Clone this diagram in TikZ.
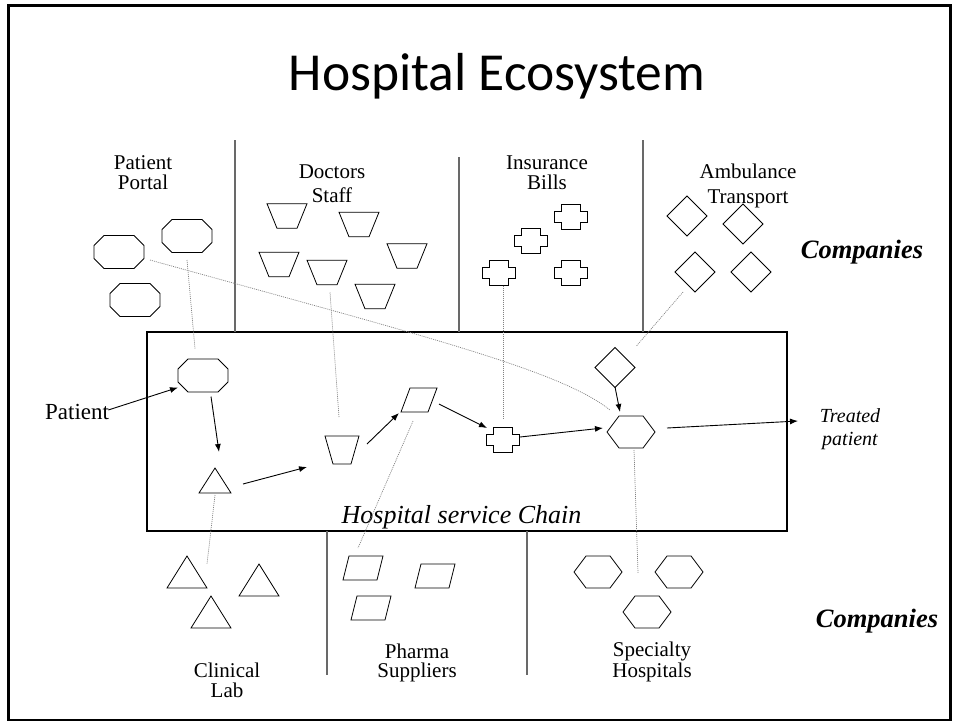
\documentclass[tikz,border=0pt]{standalone}
\usepackage{fontspec}
\setmainfont{Liberation Serif}
\newfontfamily\titlefont{Carlito}
\usetikzlibrary{arrows.meta,calc}
\definecolor{divgray}{RGB}{105,105,105}
\definecolor{dotgray}{RGB}{130,130,130}
% shape macros: name, x, y (+ sizes)
\newcommand\mkoct[3]{\node[hold] (#1) at (#2,#3) {};
  \draw[shp,shift={(#1.center)}] (-15,-16.5) -- (15,-16.5) -- (25,-6.5) -- (25,6.5) -- (15,16.5) -- (-15,16.5) -- (-25,6.5) -- (-25,-6.5) -- cycle;}
\newcommand\mktrap[6]{\node[hold] (#1) at (#2,#3) {};
  \draw[shp,shift={(#1.center)}] (-#4,-#6) -- (#4,-#6) -- (#5,#6) -- (-#5,#6) -- cycle;}
\newcommand\mkplus[3]{\node[hold] (#1) at (#2,#3) {};
  \draw[shp,shift={(#1.center)}] (-9.5,-12.5) -- (9.5,-12.5) -- (9.5,-5.5) -- (16.5,-5.5) -- (16.5,5.5) -- (9.5,5.5) -- (9.5,12.5) -- (-9.5,12.5) -- (-9.5,5.5) -- (-16.5,5.5) -- (-16.5,-5.5) -- (-9.5,-5.5) -- cycle;}
\newcommand\mkdia[3]{\node[hold] (#1) at (#2,#3) {};
  \draw[shp,shift={(#1.center)}] (0,-20) -- (20,0) -- (0,20) -- (-20,0) -- cycle;}
\newcommand\mkhex[3]{\node[hold] (#1) at (#2,#3) {};
  \draw[shp,shift={(#1.center)}] (-12,-16) -- (12,-16) -- (24,0) -- (12,16) -- (-12,16) -- (-24,0) -- cycle;}
\newcommand\mkpar[6]{\node[hold] (#1) at (#2,#3) {};
  \draw[shp,shift={(#1.center)}] (-#4,-#6) -- (#5,-#6) -- (#4,#6) -- (-#5,#6) -- cycle;}
\newcommand\mktri[5]{\node[hold] (#1) at (#2,#3) {};
  \draw[shp,shift={(#1.center)}] (0,-#5) -- (#4,#5) -- (-#4,#5) -- cycle;}
\begin{document}
\begin{tikzpicture}[x=1pt,y=-1pt,
  hold/.style={inner sep=0pt,outer sep=0pt,draw=none,minimum size=0pt},
  shp/.style={draw=black,line width=0.8pt,line join=miter},
  arr/.style={-{Latex[length=8pt,width=6pt]},line width=0.9pt,draw=black},
  dotl/.style={draw=dotgray,line width=0.7pt,dash pattern=on 1pt off 1pt},
  divl/.style={draw=divgray,line width=1.6pt},
  lbl/.style={font=\fontsize{21}{20}\selectfont,align=center,anchor=base,inner sep=0pt},
  lblw/.style={font=\fontsize{21}{24.5}\selectfont,align=center,anchor=base,inner sep=0pt},
  comp/.style={font=\fontsize{26.5}{30}\selectfont\bfseries\itshape,anchor=base,inner sep=0pt}]
\useasboundingbox (0,0) rectangle (957,723);
% frame
\draw[line width=2.5pt] (8.5,5.5) rectangle (950.5,720);
% title
\node[font=\fontsize{53.5}{60}\selectfont\titlefont,anchor=base,inner sep=0pt] (title) at (497,90) {Hospital Ecosystem};
% service chain box and dividers
\draw[line width=1.3pt] (147,332) rectangle (787,531);
\draw[divl] (235,140) -- (235,332);
\draw[divl] (459,157) -- (459,332);
\draw[divl] (643,140) -- (643,332);
\draw[divl] (327,531) -- (327,675);
\draw[divl] (527,531) -- (527,675);
% labels (y = baseline of the last line)
\node[lbl] (lpp) at (143,189) {Patient\\Portal};
\node[lblw] (lds) at (332,202.5) {Doctors\\Staff};
\node[lbl] (lib) at (547,189) {Insurance\\Bills};
\node[lblw] (lat) at (748,203) {Ambulance\\Transport};
\node[lbl] (lcl) at (227,697) {Clinical\\Lab};
\node[font=\fontsize{21}{19}\selectfont,align=center,anchor=base,inner sep=0pt] (lph) at (417,677) {Pharma\\Suppliers};
\node[font=\fontsize{21}{19}\selectfont,align=center,anchor=base,inner sep=0pt] (lsh) at (652,677) {Specialty\\Hospitals};
\node[comp] (comp1) at (862,258) {Companies};
\node[comp] (comp2) at (877,627) {Companies};
\node[font=\fontsize{20}{23}\selectfont\itshape,align=center,anchor=base,inner sep=0pt] (tp) at (850,445) {Treated\\patient};
\node[font=\fontsize{26}{30}\selectfont\itshape,anchor=base,inner sep=0pt] (hsc) at (461.5,523) {Hospital service Chain};
\node[font=\fontsize{23}{26}\selectfont,anchor=base west,inner sep=0pt] (pat) at (45,419) {Patient};
% company shapes
\mkoct{pp1}{119}{252}
\mkoct{pp2}{187}{236}
\mkoct{pp3}{135}{300}
\mktrap{ds1}{287}{216}{20}{10}{12.3}
\mktrap{ds2}{359}{224.5}{20}{10}{12.3}
\mktrap{ds3}{279}{264.5}{20}{10}{12.3}
\mktrap{ds4}{327}{272.5}{20}{10}{12.3}
\mktrap{ds5}{407}{256}{20}{10}{12.3}
\mktrap{ds6}{375}{296.5}{20}{10}{12.3}
\mkplus{ib1}{571}{216.5}
\mkplus{ib2}{531}{240.5}
\mkplus{ib3}{499}{272.5}
\mkplus{ib4}{571}{272.5}
\mkdia{at1}{687}{216}
\mkdia{at2}{743}{224}
\mkdia{at3}{695}{272}
\mkdia{at4}{751}{272}
\mktri{cl1}{187}{572}{20}{16}
\mktri{cl2}{259}{580}{20}{16}
\mktri{cl3}{211}{612}{20}{16}
\mkpar{ph1}{363}{568}{14}{20}{12}
\mkpar{ph2}{435}{576}{14}{20}{12}
\mkpar{ph3}{371}{608}{14}{20}{12}
\mkhex{sh1}{598}{572}
\mkhex{sh2}{679}{572}
\mkhex{sh3}{647}{612}
% chain shapes
\mkoct{coct}{203}{375.5}
\mktri{ctri}{215}{480.5}{16}{12.5}
\mktrap{ctrap}{342}{450}{17}{9}{14}
\mkpar{cpar}{419}{400}{9}{18}{12}
\mkplus{cplus}{503}{440}
\mkdia{cdia}{615}{367.5}
\mkhex{chex}{631}{432}
\coordinate (tpend) at (798,421);
% arrows
\draw[arr] ($(pat.base east)+(-1,-9)$) -- ($(coct)+(-25,12)$);
\draw[arr] ($(coct)+(8,21)$) -- ($(ctri)+(4,-28.5)$);
\draw[arr] ($(ctri)+(28,3.5)$) -- ($(ctrap)+(-35,17)$);
\draw[arr] ($(ctrap)+(25,-6)$) -- ($(cpar)+(-20,13)$);
\draw[arr] ($(cpar)+(20,4)$) -- ($(cplus)+(-16,-12)$);
\draw[arr] ($(cplus)+(17,-3)$) -- ($(chex)+(-28,-4)$);
\draw[arr] ($(cdia)+(0,19.5)$) -- ($(chex)+(-11,-20)$);
\draw[arr] ($(chex)+(36,-4)$) -- (tpend);
% dotted links
\draw[dotl] ($(pp2)+(0,24)$) -- ($(coct)+(-8,-27)$);
\draw[dotl] ($(pp1)+(31,8)$) .. controls (420,335) and (560,370) .. ($(chex)+(-21,-22)$);
\draw[dotl] ($(ds4)+(3,20)$) -- ($(ctrap)+(-3,-33)$);
\draw[dotl] ($(ib3)+(4,13)$) -- ($(cplus)+(0,-22)$);
\draw[dotl] ($(at3)+(-12,20)$) -- ($(cdia)+(21,-21)$);
\draw[dotl] ($(ctri)+(0,14.5)$) -- ($(cl3)+(-4,-48)$);
\draw[dotl] ($(cpar)+(-6,21)$) -- ($(ph1)+(-5,-20)$);
\draw[dotl] ($(chex)+(3,18)$) -- ($(sh3)+(-9,-39)$);
\end{tikzpicture}
\end{document}
